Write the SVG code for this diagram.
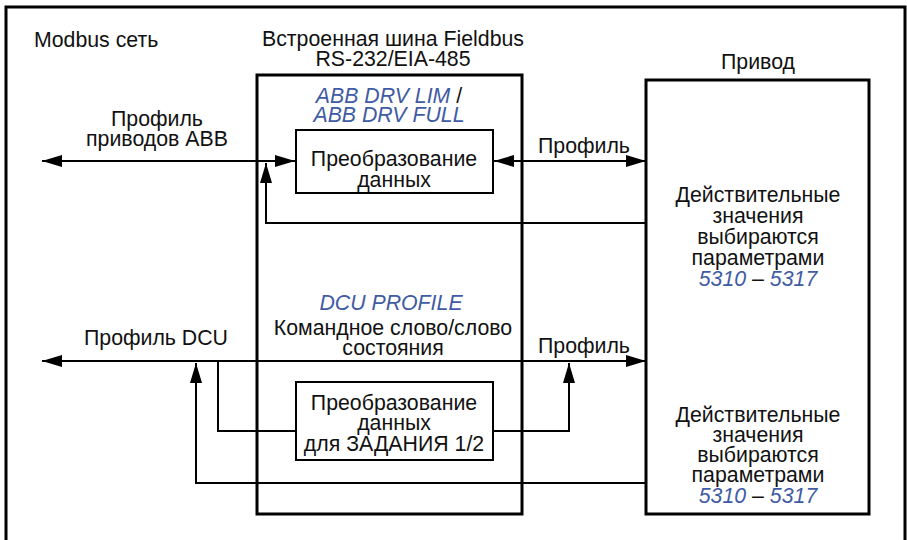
<svg xmlns="http://www.w3.org/2000/svg" width="907" height="540" viewBox="0 0 907 540">
<style>
text{font-family:"Liberation Sans",Arial,sans-serif;font-size:21.3px;fill:#111}
.c{text-anchor:middle}
.b{fill:#3f5ba4;font-style:italic}
.k{fill:#111;font-style:normal}
.conn{fill:none;stroke:#000;stroke-width:2}
.big{fill:#fff;stroke:#000;stroke-width:3}
.small{fill:#fff;stroke:#000;stroke-width:2}
</style>
<defs>
<marker id="ah" markerUnits="userSpaceOnUse" markerWidth="20" markerHeight="12" refX="20" refY="6" orient="auto-start-reverse">
<path d="M0,0 L20,6 L0,12 z" fill="#000"/>
</marker>
</defs>
<rect width="907" height="540" fill="#fff"/>
<path d="M6,545 V7 H905 V545" fill="none" stroke="#000" stroke-width="3"/>

<g id="labels">
<text x="34" y="47">Modbus сеть</text>
<text class="c" x="393" y="46">Встроенная шина Fieldbus</text>
<text class="c" x="393" y="66">RS-232/EIA-485</text>
<text class="c" x="758" y="69">Привод</text>
<text class="c" x="157" y="126">Профиль</text>
<text class="c" x="157" y="146">приводов ABB</text>
<text class="c" x="156" y="345">Профиль DCU</text>
<text x="538" y="153">Профиль</text>
<text x="538" y="353">Профиль</text>
</g>

<g id="fieldbus">
<rect class="big" x="257" y="75" width="265" height="439"/>
<text class="c b" x="389" y="103">ABB DRV LIM<tspan class="k"> /</tspan></text>
<text class="c b" x="389" y="122">ABB DRV FULL</text>
<text class="c b" x="391" y="310">DCU PROFILE</text>
<text class="c" x="393" y="335">Командное слово/слово</text>
<text class="c" x="393" y="355">состояния</text>
</g>

<g id="drive">
<rect class="big" x="646" y="80" width="223" height="434"/>
<g class="c">
<text x="758" y="202">Действительные</text>
<text x="758" y="223">значения</text>
<text x="758" y="244">выбираются</text>
<text x="758" y="265">параметрами</text>
<text x="758" y="286"><tspan class="b">5310</tspan> – <tspan class="b">5317</tspan></text>
<text x="758" y="422">Действительные</text>
<text x="758" y="442">значения</text>
<text x="758" y="462">выбираются</text>
<text x="758" y="482">параметрами</text>
<text x="758" y="503"><tspan class="b">5310</tspan> – <tspan class="b">5317</tspan></text>
</g>
</g>

<g id="conv1">
<rect class="small" x="296" y="130" width="197" height="63"/>
<text class="c" x="394" y="166">Преобразование</text>
<text class="c" x="394" y="187">данных</text>
</g>

<g id="conv2">
<rect class="small" x="296" y="382" width="197" height="78"/>
<text class="c" x="394" y="410">Преобразование</text>
<text class="c" x="394" y="430">данных</text>
<text class="c" x="394" y="451">для ЗАДАНИЯ 1/2</text>
</g>

<g id="connectors">
<path class="conn" d="M42,161 H295" marker-start="url(#ah)" marker-end="url(#ah)"/>
<path class="conn" d="M494,161 H646" marker-start="url(#ah)" marker-end="url(#ah)"/>
<path class="conn" d="M646,223 H266 V163" marker-end="url(#ah)"/>
<path class="conn" d="M42,361 H646" marker-start="url(#ah)" marker-end="url(#ah)"/>
<path class="conn" d="M218,361 V431 H296"/>
<path class="conn" d="M493,431 H569 V363" marker-end="url(#ah)"/>
<path class="conn" d="M646,483 H196 V363" marker-end="url(#ah)"/>
</g>
</svg>
